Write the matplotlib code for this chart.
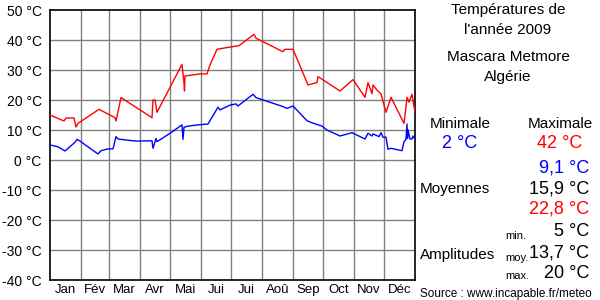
import matplotlib
matplotlib.use("Agg")
import matplotlib.pyplot as plt

plt.rcParams['font.family'] = ['Liberation Sans', 'DejaVu Sans']

months = ["Jan", "Fév", "Mar", "Avr", "Mai", "Jui", "Jui", "Aoû", "Sep", "Oct", "Nov", "Déc"]
month_starts = [0, 31, 59, 90, 120, 151, 181, 212, 243, 273, 304, 334, 365]
y_ticks = [-40, -30, -20, -10, 0, 10, 20, 30, 40, 50]
y_labels = ["-40 °C", "-30 °C", "-20 °C", "-10 °C", "0 °C", "10 °C", "20 °C", "30 °C", "40 °C", "50 °C"]

max_days = [0, 14, 16, 24, 26, 28, 49, 65, 66, 71, 102, 103, 105, 107, 132, 134, 134.5, 135,
            150, 157, 160, 167, 179, 189, 204, 206, 233, 235, 243, 258, 267, 268, 290, 303,
            315, 318, 322, 323, 327, 331, 336, 341, 354, 356, 357, 359, 362, 365]
max_temps = [15, 13, 14, 14, 11, 12.2, 16.9, 14.1, 13, 20.8, 14.1, 20, 20, 15.9, 31.9, 25.6, 23, 28,
             28.7, 28.7, 31.7, 36.9, 37.6, 38.1, 41.9, 40.6, 36.1, 36.9, 36.9, 25, 25.8, 27.8, 23, 26.8,
             20.9, 25.8, 22.1, 25, 23.3, 22, 15.9, 20.9, 12.2, 17.8, 20.9, 19.3, 21.9, 15.9]

min_days = [0, 8, 15, 25, 27, 30, 48, 51, 58, 63, 66, 68, 75, 86, 102, 103, 106, 107, 120, 132,
            133, 134, 138, 148, 158, 168, 170, 180, 186, 188, 203, 206, 233, 237, 243, 257, 262,
            272, 277, 290, 302, 315, 318, 322, 323, 329, 331, 333, 336, 338, 341, 352, 354, 356,
            357, 357.5, 358, 360, 362, 363, 365]
min_temps = [5, 4.4, 3, 5.9, 6.9, 6.3, 2, 3.1, 3.7, 3.7, 7.8, 7, 6.7, 6.3, 6.4, 3.9, 7.2, 6.1, 8.9, 11.7,
             6.9, 10.9, 11.3, 11.7, 12, 17.6, 16.7, 18.3, 18.7, 18, 21.9, 20.8, 17.8, 17.2, 18, 13.1, 12.4,
             11.3, 10, 8, 9.1, 7, 8.9, 8, 8.7, 7.8, 9.1, 7.6, 7.6, 3.6, 3.9, 3.1, 6.1, 6.9,
             12, 7.2, 10, 7, 7, 8, 6.9]

fig = plt.figure(figsize=(6, 3), dpi=100)
ax = fig.add_axes([50/600, 20/300, 365/600, 270/300])
ax.set_xlim(0, 365)
ax.set_ylim(-40, 50)

for d in month_starts[1:-1]:
    ax.axvline(d, color='#808080', lw=1.0, zorder=1)
for t in y_ticks[1:-1]:
    ax.axhline(t, color='#808080', lw=1.0, zorder=1)

ax.plot(max_days, max_temps, color='#ff0000', lw=1.0, zorder=3)
ax.plot(min_days, min_temps, color='#0000ff', lw=1.0, zorder=3)

ax.set_yticks(y_ticks)
ax.set_yticklabels(y_labels, fontsize=10)
mids = [(month_starts[i] + month_starts[i+1]) / 2 for i in range(12)]
ax.set_xticks(mids)
ax.set_xticklabels(months, fontsize=9.5)
ax.tick_params(axis='y', length=0, pad=6)
ax.tick_params(axis='x', length=0, pad=3)
for s in ax.spines.values():
    s.set_color('black')
    s.set_linewidth(1.2)

def T(x, y, s, **kw):
    kw.setdefault('fontsize', 11)
    kw.setdefault('color', 'black')
    fig.text(x/600, 1 - y/300, s, va='center', **kw)

T(508, 10, "Températures de", ha='center')
T(508, 30, "l'année 2009", ha='center')
T(508, 57, "Mascara Metmore", ha='center')
T(508, 77, "Algérie", ha='center')
T(460, 124, "Minimale", ha='center')
T(560, 124, "Maximale", ha='center')
T(460, 143, "2 °C", ha='center', fontsize=13, color='#0000ff')
T(560, 143, "42 °C", ha='center', fontsize=13, color='#ff0000')
T(589, 168, "9,1 °C", ha='right', fontsize=13, color='#0000ff')
T(420, 189, "Moyennes", ha='left')
T(589, 189, "15,9 °C", ha='right', fontsize=13)
T(589, 209, "22,8 °C", ha='right', fontsize=13, color='#ff0000')
T(505, 236, "min.", ha='left', fontsize=8)
T(589, 232, "5 °C", ha='right', fontsize=13)
T(420, 255, "Amplitudes", ha='left')
T(505, 258, "moy.", ha='left', fontsize=8)
T(589, 253, "13,7 °C", ha='right', fontsize=13)
T(505, 276, "max.", ha='left', fontsize=8)
T(589, 273, "20 °C", ha='right', fontsize=13)
T(420, 294, "Source : www.incapable.fr/meteo", ha='left', fontsize=8.5)

fig.savefig("out.png", dpi=100)
